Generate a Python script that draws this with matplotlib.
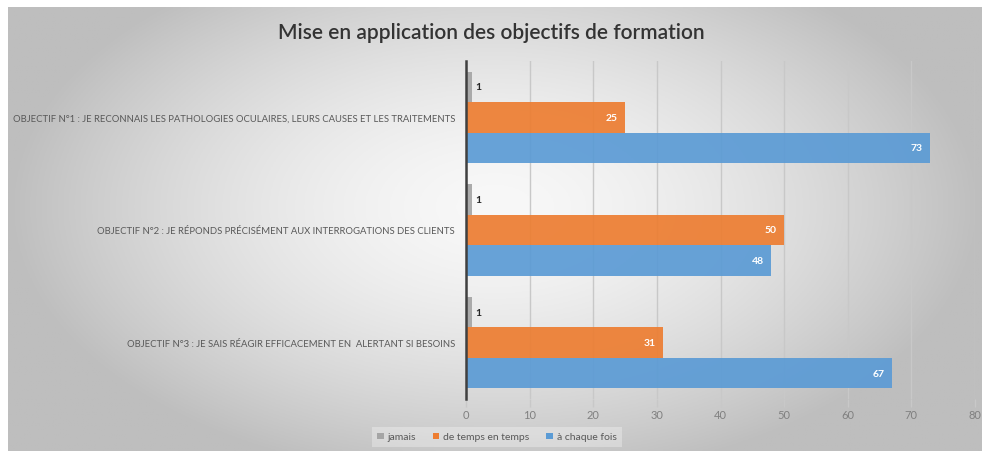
import numpy as np
import matplotlib
matplotlib.use("Agg")
from matplotlib import pyplot as plt
from matplotlib.patches import Patch

# données
objectifs = [
    "OBJECTIF N°1 : JE RECONNAIS LES PATHOLOGIES OCULAIRES, LEURS CAUSES ET LES TRAITEMENTS",
    "OBJECTIF N°2 : JE RÉPONDS PRÉCISÉMENT AUX INTERROGATIONS DES CLIENTS",
    "OBJECTIF N°3 : JE SAIS RÉAGIR EFFICACEMENT EN  ALERTANT SI BESOINS",
]
series_noms = ["jamais", "de temps en temps", "à chaque fois"]
jamais = [1, 1, 1]
de_temps_en_temps = [25, 50, 31]
a_chaque_fois = [73, 48, 67]
ticks_x = [0, 10, 20, 30, 40, 50, 60, 70, 80]

couleurs = ["#a5a5a5", "#ed7d31", "#5b9bd5"]
plt.rcParams["font.family"] = ["Lato", "DejaVu Sans"]

W, H = 982, 452
fig = plt.figure(figsize=(W / 100, H / 100), dpi=100)
fig.patch.set_facecolor("white")

# fond en dégradé radial (style Excel) : clair au centre, gris sur les bords
bg = fig.add_axes([8 / W, 0, 1 - 8 / W, 1 - 8 / H])
yy, xx = np.mgrid[-1:1:200j, -1:1:400j]
r = np.clip(np.sqrt((xx / 1.0) ** 2 + ((yy + 0.1) / 1.25) ** 2), 0, 1)
gris = (248 - 58 * r ** 1.6) / 255
bg.imshow(np.dstack([gris, gris, gris]), aspect="auto", extent=[0, 1, 0, 1])
bg.set_axis_off()

ax = fig.add_axes([466 / W, 1 - 400 / H, (975 - 466) / W, (400 - 62) / H])
ax.patch.set_alpha(0)

y = np.arange(len(objectifs))
h = 0.27
valeurs = [jamais, de_temps_en_temps, a_chaque_fois]
for i, (vals, nom, c) in enumerate(zip(valeurs, series_noms, couleurs)):
    pos = y + (i - 1) * h
    barres = ax.barh(pos, vals, height=h, color=c, alpha=0.92, zorder=3, label=nom)
    for b, v in zip(barres, vals):
        yc = b.get_y() + b.get_height() / 2
        if i == 0:
            ax.text(v + 0.4, yc, str(v), va="center", ha="left",
                    fontsize=7.5, fontweight="bold", color="#262626", zorder=4)
        else:
            ax.text(v - 1.2, yc, str(v), va="center", ha="right",
                    fontsize=7.5, fontweight="bold", color="white", zorder=4)

ax.set_xlim(0, 80)
ax.set_ylim(len(objectifs) - 0.5, -0.5)
ax.set_xticks(ticks_x)
ax.set_yticks(y)
ax.set_yticklabels(objectifs, fontsize=6.8, color="#595959")
ax.tick_params(axis="y", length=0, pad=8)
ax.tick_params(axis="x", length=6, color="#c8c8c8", labelcolor="#808080",
               labelsize=8, pad=1, width=1)
ax.grid(axis="x", color="#c8c8c8", linewidth=1, zorder=0)
for s in ["top", "right", "bottom"]:
    ax.spines[s].set_visible(False)
ax.spines["left"].set_color("#404040")
ax.spines["left"].set_linewidth(1.8)
ax.spines["left"].set_zorder(5)

fig.text(0.5, 1 - 33 / H, "Mise en application des objectifs de formation",
         ha="center", va="center", fontsize=15, color="#333333",
         fontweight="semibold")

poignees = [Patch(facecolor=c, edgecolor="none") for c in couleurs]
leg = fig.legend(poignees, series_noms, loc="center", ncol=3,
                 bbox_to_anchor=(497 / W, 1 - 438 / H), frameon=True,
                 fontsize=7.5, handlelength=0.6, handleheight=0.6,
                 handletextpad=0.4, columnspacing=1.6, borderpad=0.5,
                 fancybox=False)
leg.get_frame().set_facecolor("white")
leg.get_frame().set_alpha(0.3)
leg.get_frame().set_edgecolor("none")
for t in leg.get_texts():
    t.set_color("#595959")

fig.savefig("out.png", dpi=100)
